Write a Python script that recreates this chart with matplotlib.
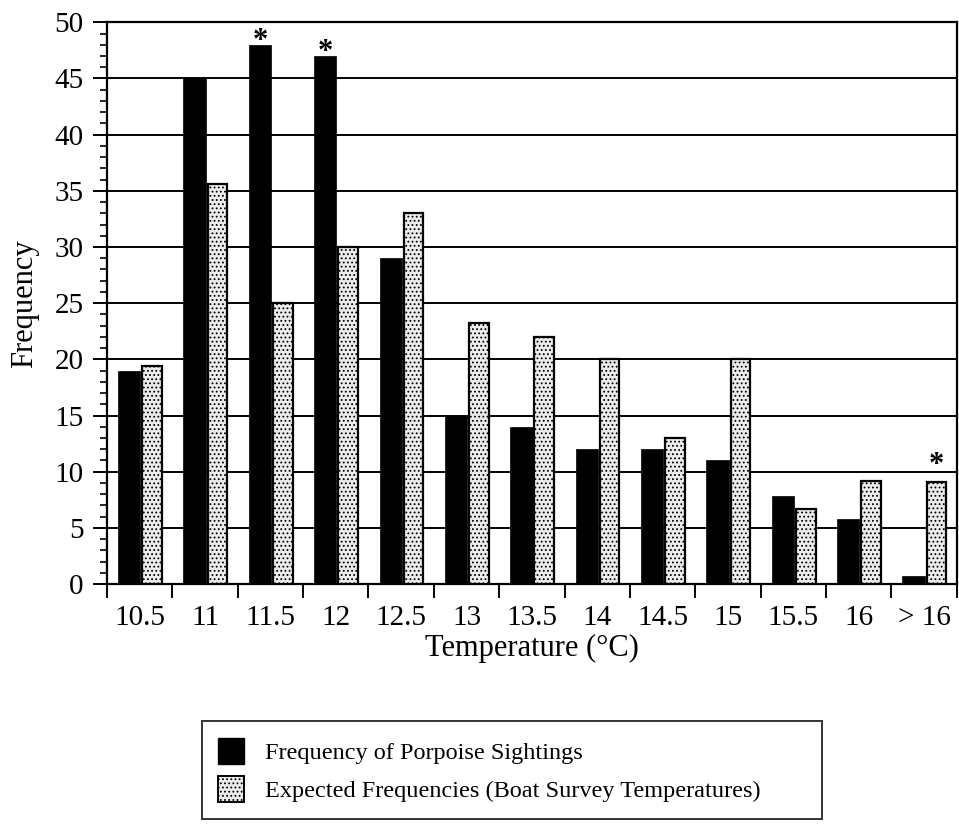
# Imports
import numpy as np
import matplotlib
matplotlib.use('Agg')
import matplotlib.pyplot as plt
from matplotlib.patches import Patch

# Data
temperatures = ['10.5', '11', '11.5', '12', '12.5', '13', '13.5', '14', '14.5', '15', '15.5', '16', '> 16']
sightings = [19, 45, 48, 47, 29, 15, 14, 12, 12, 11, 7.8, 5.8, 0.7]
expected = [19.4, 35.6, 25, 30, 33, 23.2, 22, 20, 13, 20, 6.7, 9.2, 9.1]
significant_sightings = ['11.5', '12']
significant_expected = ['> 16']

# Style
plt.rcParams['font.family'] = ['Liberation Serif', 'DejaVu Serif']
plt.rcParams['hatch.color'] = '#8a8a8a'
plt.rcParams['hatch.linewidth'] = 0.8

fig = plt.figure(figsize=(9.59, 8.25), dpi=100)
ax = fig.add_axes([0.1116, 0.292, 0.886, 0.681])

x = np.arange(len(temperatures))
w = 0.34

## Bars
ax.bar(x - 0.16, sightings, width=w, color='black', edgecolor='black', linewidth=0.5, zorder=3)
ax.bar(x + 0.19, expected, width=0.30, color='#ececec', edgecolor='black', linewidth=1.6,
       hatch='....', zorder=3)

## Asterisks
for i, t in enumerate(temperatures):
    if t in significant_sightings:
        ax.annotate('*', (x[i] - 0.16, sightings[i]), xytext=(0, -8), textcoords='offset points',
                    ha='center', va='bottom', fontsize=22, fontweight='bold')
    if t in significant_expected:
        ax.annotate('*', (x[i] + 0.19, expected[i]), xytext=(0, 1), textcoords='offset points',
                    ha='center', va='bottom', fontsize=22, fontweight='bold')

## Axes
ax.set_xlim(-0.5, len(temperatures) - 0.5)
ax.set_ylim(0, 50)
ax.set_yticks(np.arange(0, 51, 5))
ax.set_yticks(np.arange(0, 51, 1), minor=True)
ax.yaxis.grid(True, color='black', linewidth=1.4, zorder=0)
ax.set_axisbelow(True)

ax.set_xticks(x)
ax.set_xticklabels(temperatures)
ax.set_xticks(np.arange(-0.5, len(temperatures), 1), minor=True)
ax.tick_params(axis='x', which='major', length=0, pad=15, labelsize=21)
ax.tick_params(axis='x', which='minor', length=10, width=1.4, direction='out')
ax.tick_params(axis='y', which='major', length=10, width=1.4, labelsize=21, pad=7)
ax.tick_params(axis='y', which='minor', length=5, width=1.2)

for s in ax.spines.values():
    s.set_linewidth(1.6)

## Labels
ax.set_xlabel('Temperature (°C)', fontsize=22, labelpad=2)
ax.set_ylabel('Frequency', fontsize=22, labelpad=11)

## Legend
handles = [Patch(facecolor='black', edgecolor='black'),
           Patch(facecolor='#ececec', edgecolor='black', hatch='....', linewidth=1.4)]
labels = ['Frequency of Porpoise Sightings', 'Expected Frequencies (Boat Survey Temperatures)']
leg = fig.legend(handles, labels, loc='center', bbox_to_anchor=(0.2106, 0.0085, 0.6465, 0.1163),
                 mode='expand', fontsize=17.5, frameon=True, fancybox=False, edgecolor='black',
                 handlelength=1.05, handleheight=1.25, handletextpad=0.85,
                 labelspacing=0.5, borderpad=0.68, borderaxespad=0)
leg.get_frame().set_linewidth(1.4)

## Save
plt.savefig('out.png', dpi=100)
